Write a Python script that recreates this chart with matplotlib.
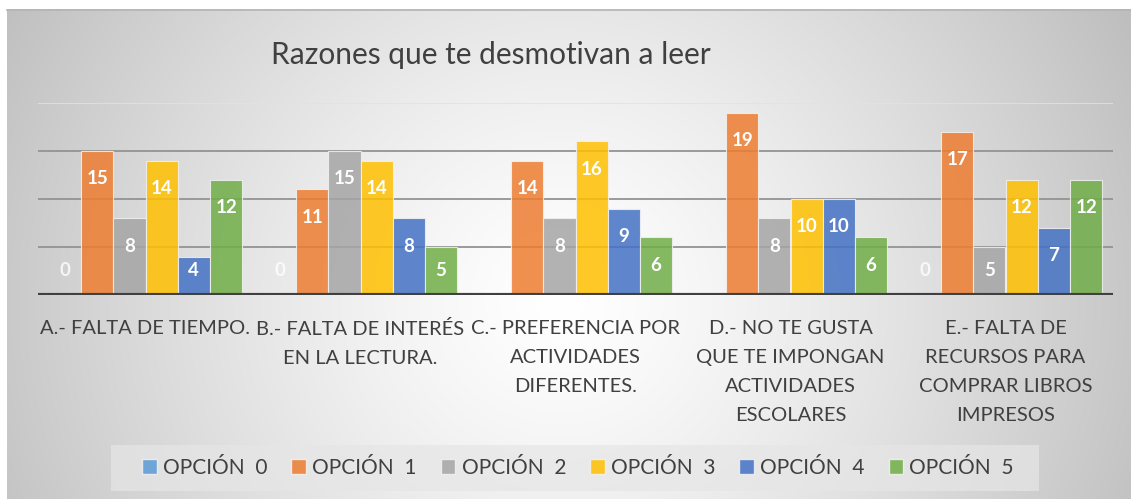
import numpy as np
import matplotlib.pyplot as plt
from matplotlib.patches import Patch, Rectangle

plt.rcParams['font.family'] = ['Lato', 'DejaVu Sans']

# datos
categorias = ["A.- FALTA DE TIEMPO.",
              "B.- FALTA DE INTERÉS\nEN LA LECTURA.",
              "C.- PREFERENCIA POR\nACTIVIDADES\nDIFERENTES.",
              "D.- NO TE GUSTA\nQUE TE IMPONGAN\nACTIVIDADES\nESCOLARES",
              "E.- FALTA DE\nRECURSOS PARA\nCOMPRAR LIBROS\nIMPRESOS"]
series = ["OPCIÓN  0", "OPCIÓN  1", "OPCIÓN  2", "OPCIÓN  3", "OPCIÓN  4", "OPCIÓN  5"]
opcion_0 = [0, 0, np.nan, np.nan, 0]
opcion_1 = [15, 11, 14, 19, 17]
opcion_2 = [8, 15, 8, 8, 5]
opcion_3 = [14, 14, 16, 10, 12]
opcion_4 = [4, 8, 9, 10, 7]
opcion_5 = [12, 5, 6, 6, 12]
valores = [opcion_0, opcion_1, opcion_2, opcion_3, opcion_4, opcion_5]
colores = ['#5B9BD5', '#ED7D31', '#A5A5A5', '#FFC000', '#4472C4', '#70AD47']

W, H = 1131, 499
fig = plt.figure(figsize=(W / 100, H / 100), dpi=100)

# fondo con degradado radial
bg = fig.add_axes([0, 0, 1, 1])
bg.set_xlim(0, W)
bg.set_ylim(H, 0)
bg.axis('off')
xx, yy = np.meshgrid(np.arange(7, W), np.arange(9, H))
d = np.sqrt(((xx - 560) / 620.0) ** 2 + ((yy - 300) / 600.0) ** 2)
g = 255 - 62 * np.clip(d, 0, 1.1) ** 1.3
img = np.dstack([g, g, g]) / 255.0
bg.imshow(img, extent=(7, W, H, 9), aspect='auto', interpolation='bilinear')
bg.plot([7, W], [9.5, 9.5], color='#b4b4b4', lw=1.2)
bg.text(491, 55, "Razones que te desmotivan a leer", fontsize=21.5, color='#404040',
        ha='center', va='center')
# caja de la leyenda
bg.add_patch(Rectangle((111, 445), 928, 46, facecolor='#e6e6e6', alpha=0.7, edgecolor='none'))

# grafico
ax = fig.add_axes([38 / W, 1 - 295 / H, 1075 / W, 192 / H])
ax.patch.set_alpha(0)
ax.set_xlim(-0.5, 4.5)
ax.set_ylim(0, 20)
for v in [5, 10, 15]:
    ax.axhline(v, color='#939393', lw=1.3, zorder=1)
ax.axhline(20, color='#e2e2e2', lw=1.2, zorder=1)

x = np.arange(len(categorias))
ancho = 0.15
for j, (vals, c) in enumerate(zip(valores, colores)):
    pos = x + (j - 2.5) * ancho
    ax.bar(pos, vals, ancho, color=c, alpha=0.85, edgecolor='#f2f2f2', lw=0.8, zorder=2)
    for p, v in zip(pos, vals):
        if np.isnan(v):
            continue
        ax.text(p, max(v - 2.9, 2.6), "%d" % v, ha='center', va='center', fontsize=13.5,
                fontweight='bold', color='white', alpha=0.8 if v == 0 else 1, zorder=3)

ax.axhline(0, color='#404040', lw=3, zorder=4)
ax.set_xticks(x)
ax.set_xticklabels(categorias, fontsize=14.5, color='#404040', linespacing=1.85)
ax.tick_params(axis='x', length=0, pad=18)
ax.set_yticks([])
for s in ax.spines.values():
    s.set_visible(False)

handles = [Patch(facecolor=c, alpha=0.85, edgecolor='#f2f2f2') for c in colores]
fig.legend(handles, series, loc='center', bbox_to_anchor=(578 / W, 1 - 468 / H), ncol=6,
           frameon=False, fontsize=15, handlelength=0.7, handleheight=0.7, handletextpad=0.3,
           columnspacing=1.15, borderpad=0.45, borderaxespad=0, labelcolor='#404040')

fig.savefig('out.png', dpi=100)
